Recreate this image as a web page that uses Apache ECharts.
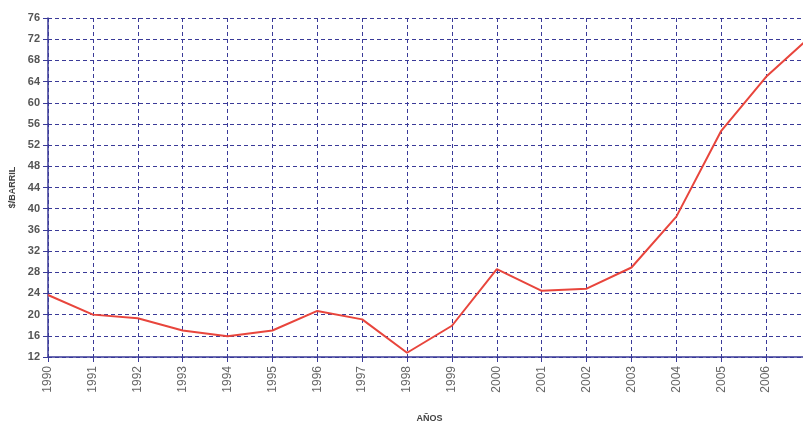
<!DOCTYPE html>
<html><head><meta charset="utf-8">
<script src="https://cdn.jsdelivr.net/npm/echarts@6/dist/echarts.min.js"></script>
<style>html,body{margin:0;padding:0;background:#fff;overflow:hidden}#c{width:803px;height:424px}</style>
</head><body><div id="c"></div>
<script>
const years = ['1990','1991','1992','1993','1994','1995','1996','1997','1998','1999','2000','2001','2002','2003','2004','2005','2006','2007'];
const prices = [23.7, 20.0, 19.3, 17.0, 15.9, 17.0, 20.7, 19.1, 12.8, 17.9, 28.6, 24.5, 24.9, 28.9, 38.5, 54.7, 64.9, 72.6];
const yTicks = {min: 12, max: 76, interval: 4};

const chart = echarts.init(document.getElementById('c'));
const blue = '#3a3a98';
chart.setOption({
  backgroundColor: '#ffffff',
  animation: false,
  grid: {left: 48, width: 763, top: 18, height: 339, containLabel: false, outerBoundsMode: 'none'},
  xAxis: {
    type: 'category', data: years, boundaryGap: false,
    name: 'AÑOS', nameLocation: 'middle', nameGap: 57,
    nameTextStyle: {fontFamily: 'Liberation Sans, Arial', fontWeight: 'bold', fontSize: 9, color: '#444'},
    axisLine: {lineStyle: {color: blue, width: 1.5}},
    axisTick: {show: true, length: 5, alignWithLabel: true, lineStyle: {color: blue}},
    axisLabel: {rotate: 90, margin: 9, fontFamily: 'Liberation Sans, Arial', fontSize: 12, color: '#666', interval: 0},
    splitLine: {show: true, lineStyle: {color: blue, type: [4, 3], width: 1}}
  },
  yAxis: {
    type: 'value', min: yTicks.min, max: yTicks.max, interval: yTicks.interval,
    name: '$/BARRIL', nameLocation: 'middle', nameGap: 30, nameRotate: 90,
    nameTextStyle: {fontFamily: 'Liberation Sans, Arial', fontWeight: 'bold', fontSize: 9, color: '#444'},
    axisLine: {show: true, lineStyle: {color: blue, width: 1.5}},
    axisTick: {show: true, length: 5, lineStyle: {color: blue}},
    axisLabel: {margin: 8, fontFamily: 'Liberation Sans, Arial', fontWeight: 'bold', fontSize: 11, color: '#555'},
    splitLine: {show: true, lineStyle: {color: blue, type: [4, 3], width: 1}}
  },
  series: [{
    type: 'line', data: prices, symbol: 'none',
    lineStyle: {color: '#e8453c', width: 2}
  }]
});
</script></body></html>
